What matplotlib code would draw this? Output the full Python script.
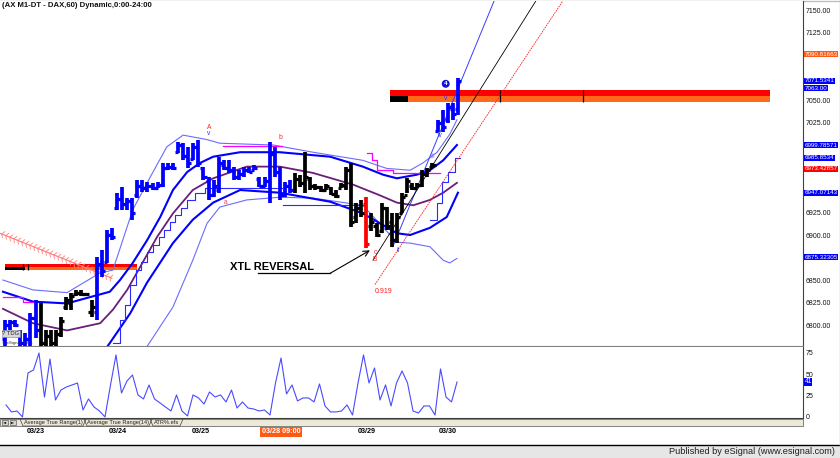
import matplotlib
matplotlib.use('Agg')
import matplotlib.pyplot as plt
import matplotlib.patheffects as pe
from matplotlib.patches import Rectangle
import numpy as np

plt.rcParams['font.family'] = ['Liberation Sans', 'DejaVu Sans']

# ---- hourly DAX bars ----
HIGH = [6806, 6806, 6806, 6794, 6791, 6813, 6828, 6825, 6794, 6794, 6794, 6809, 6831, 6836, 6839,
        6839, 6836, 6828, 6876, 6883, 6906, 6908, 6947, 6953, 6941, 6941, 6961, 6961, 6959, 6958,
        6959, 6980, 6980, 6980, 7003, 7002, 6998, 7002, 7006, 6976, 6964, 6961, 6987, 6983, 6983,
        6976, 6972, 6976, 6976, 6978, 6964, 6964, 7003, 6998, 6976, 6959, 6961, 6969, 6967, 6992,
        6964, 6957, 6955, 6957, 6953, 6950, 6958, 6976, 6980, 6936, 6939, 6942, 6924, 6913, 6936,
        6931, 6924, 6924, 6947, 6963, 6958, 6958, 6972, 6975, 6980, 7028, 7039, 7047, 7047, 7074]
LOW = [6772, 6795, 6798, 6772, 6772, 6772, 6786, 6772, 6772, 6772, 6772, 6787, 6817, 6817, 6832,
       6832, 6832, 6809, 6806, 6853, 6869, 6894, 6928, 6928, 6928, 6917, 6941, 6948, 6948, 6950,
       6952, 6953, 6972, 6972, 6991, 6983, 6974, 6983, 6976, 6961, 6939, 6942, 6947, 6972, 6969,
       6961, 6961, 6964, 6969, 6972, 6953, 6953, 6936, 6964, 6939, 6942, 6947, 6947, 6953, 6947,
       6950, 6950, 6948, 6950, 6944, 6941, 6952, 6950, 6909, 6913, 6920, 6886, 6905, 6898, 6902,
       6906, 6887, 6891, 6924, 6947, 6950, 6952, 6953, 6964, 6975, 7014, 7014, 7024, 7028, 7033]
OPEN = [6785, 6800, 6803, 6792, 6780, 6785, 6808, 6795, 6780, 6788, 6780, 6790, 6820, 6825, 6834,
        6836, 6834, 6815, 6815, 6868, 6870, 6900, 6930, 6940, 6935, 6938, 6945, 6955, 6952, 6955,
        6952, 6956, 6975, 6976, 6992, 7000, 6988, 6985, 6998, 6975, 6960, 6945, 6950, 6978, 6975,
        6972, 6965, 6968, 6972, 6972, 6962, 6955, 6960, 6990, 6970, 6945, 6955, 6950, 6962, 6958,
        6962, 6955, 6953, 6950, 6952, 6946, 6952, 6955, 6972, 6920, 6930, 6935, 6910, 6910, 6905,
        6930, 6915, 6895, 6925, 6945, 6955, 6952, 6956, 6968, 6976, 7016, 7025, 7028, 7040, 7040]
CLOSE = [6800, 6803, 6800, 6780, 6785, 6808, 6795, 6780, 6788, 6780, 6790, 6805, 6828, 6832, 6836,
         6834, 6835, 6820, 6868, 6860, 6900, 6898, 6940, 6935, 6938, 6925, 6955, 6952, 6955, 6952,
         6956, 6975, 6976, 6975, 7000, 6988, 6980, 6998, 6980, 6965, 6945, 6955, 6980, 6975, 6972,
         6965, 6968, 6972, 6970, 6975, 6955, 6960, 6990, 6970, 6945, 6955, 6950, 6962, 6958, 6965,
         6955, 6953, 6950, 6955, 6946, 6943, 6956, 6972, 6915, 6930, 6925, 6890, 6915, 6900, 6930,
         6910, 6895, 6920, 6942, 6960, 6952, 6956, 6968, 6972, 6978, 7025, 7020, 7042, 7035, 7071.5]
BAR_CLR = 'b' * 7 + 'k' * 11 + 'b' * 39 + 'k' * 14 + 'r' + 'k' * 13 + 'b' * 5

# ---- overlays: (bar index, price) knots ----
UB_X = [-0.4, 5.5, 12.2, 16.7, 20.6, 22.6, 25.1, 27.9, 30.5, 33.0, 35.8, 38.3, 40.9, 46.2, 54.0,
        63.9, 70.3, 74.3, 77.0, 80.9, 83.5, 86.1, 88.8]
UB_Y = [6837, 6826, 6824, 6831, 6837, 6850, 6869, 6894, 6920, 6950, 6970, 6980, 6987, 6992, 6992,
        6987, 6976, 6967, 6963, 6967, 6972, 6983, 7000]
LB_X = [19.6, 20.6, 24.6, 27.9, 33.0, 36.9, 40.9, 46.2, 54.0, 63.9, 70.3, 73.7, 77.0, 79.6, 83.5,
        86.8, 89.0]
LB_Y = [6772, 6780, 6813, 6847, 6891, 6917, 6936, 6950, 6947, 6937, 6924, 6913, 6902, 6900, 6908,
        6920, 6947]
MA_X = [-0.4, 5.5, 12.2, 18.7, 21.2, 24.0, 26.5, 29.9, 33.0, 36.9, 40.9, 47.5, 54.0, 60.5, 68.4,
        73.7, 77.0, 80.2, 83.5, 86.1, 88.8]
MA_Y = [6818, 6802, 6794, 6802, 6817, 6839, 6864, 6898, 6924, 6950, 6963, 6976, 6976, 6969, 6956,
        6944, 6936, 6933, 6939, 6947, 6958]
UT_X = [-0.4, 5.5, 12.2, 18.7, 21.2, 25.1, 28.5, 31.8, 35.0, 39.7, 42.2, 52.7, 60.5, 70.3, 75.0,
        79.6, 82.1, 84.9, 87.4, 88.8]
UT_Y = [6850, 6839, 6836, 6858, 6861, 6928, 6964, 6998, 7011, 7006, 7002, 7000, 6992, 6983, 6974,
        6972, 6980, 6992, 7012, 7028]
LT_X = [27.9, 33.0, 36.9, 39.7, 42.2, 47.5, 54.0, 60.5, 70.3, 77.0, 79.6, 83.5, 86.1, 87.4, 88.8]
LT_Y = [6776, 6820, 6872, 6913, 6931, 6939, 6942, 6941, 6933, 6892, 6891, 6887, 6872, 6869, 6874]

STOP1_X = [21.2, 22.6, 23.6, 24.6, 25.7, 26.7, 27.9, 29.1, 30.3, 31.2, 32.4, 33.4, 34.6, 35.8, 37.3,
           39.3, 54.4]
STOP1_Y = [6780, 6806, 6822, 6844, 6861, 6870, 6881, 6889, 6898, 6906, 6914, 6922, 6930, 6939, 6947,
           6952, 6952]
STOP2_X = [54.6, 70.3]
STOP2_Y = [6933, 6933]
STOP3_X = [83.5, 84.9, 85.9, 87.0, 88.4, 89.4]
STOP3_Y = [6917, 6936, 6959, 6970, 6986, 6986]

MAG1_X = [-0.4, 3.5, 5.9]
MAG1_Y = [6831, 6826, 6826]
MAG2_X = [42.8, 54.4]
MAG2_Y = [6999, 6999]
MAG3_X = [71.1, 72.1, 73.1, 76.2, 85.5]
MAG3_Y = [6991, 6983, 6972, 6969, 6969]

HATCH_X = [-1.0, 21.0]
HATCH_Y = [6902, 6852]

TL_BLUE_X = [76.2, 96.1]
TL_BLUE_Y = [6887, 7160]
TL_BLACK_X = [72.3, 104.3]
TL_BLACK_Y = [6872, 7160]
TL_RED_X = [72.7, 109.6]
TL_RED_Y = [6845, 7160]

# resistance zones: (x0, x1, price top, mid, bottom, black end, tick positions)
ZONES = [(0.0, 25.9, 6867.8, 6864.4, 6861.1, 3.9, [3.5, 4.5]),
         (75.6, 150.3, 7061.1, 7054.4, 7047.8, 79.2, [97.2, 113.6])]

# wave labels: (x, y, text, colour)
WAVE_LABELS = [(40.1, 7020, 'A', '#FF2020'), (40.1, 7013, 'v', '#3030FF'),
               (43.4, 6936, 'a', '#FF4040'), (54.2, 7008, 'b', '#FF2020'),
               (72.7, 6881, 'c', '#FF2020'), (72.7, 6873, 'B', '#FF2020'),
               (77.2, 6883, 'ii', '#3030FF'), (84.1, 6987, 'iii', '#8080FF'),
               (85.5, 7011, 'iv', '#3030FF'), (86.6, 7052, 'v', '#3030FF')]

TAG_TEXT = ['7090.81663', '7071.5341', '7063.00', '6999.78571', '6985.8534', '6973.42857',
            '6947.07143', '6875.32305']
TAG_COLOR = ['#FF5A14', '#0000FF', '#0000FF', '#0000FF', '#0000FF', '#FF0000', '#0000FF', '#0000FF']
TAG_SHIFT = [True, False, False, False, False, False, False, False]
HIDDEN_TICKS = [7100, 7075, 7000, 6975, 6950, 6875]

# ---- ATR(1) lower pane ----
ATR = [14.1, 5.9, 7.0, 0.0, 51.6, 55.1, 75.0, 23.4, 68.0, 19.9, 31.6, 35.2, 37.5, 39.8, 8.2, 21.1,
       11.7, 7.0, 0.0, 37.5, 72.7, 28.1, 42.2, 49.2, 25.8, 21.1, 37.5, 21.1, 16.4, 11.7, 7.0, 25.8,
       7.0, 1.2, 25.8, 22.3, 15.2, 29.3, 23.4, 25.8, 17.6, 31.6, 10.5, 17.6, 10.5, 9.4, 7.0, 8.2,
       2.3, 39.8, 69.1, 27.0, 37.5, 18.8, 22.3, 22.3, 17.6, 38.7, 12.9, 5.9, 5.9, 7.0, 14.1, 2.3,
       39.8, 72.7, 39.8, 57.4, 19.9, 37.5, 12.9, 39.8, 53.9, 39.8, 7.0, 4.7, 12.9, 12.9, 2.3, 56.3,
       23.4, 17.6, 41.0]
DATE_POS = [5.5, 20.4, 35.5, 50.0, 65.5, 80.4]
DATE_LBL = ['03/23', '03/24', '03/25', '03/28 09:00', '03/29', '03/30']

CLR = {'b': '#0000FF', 'k': '#000000', 'r': '#FF0000'}
W, H = 840, 458


def rect(x0, y0, x1, y1):
    return [x0 / W, 1 - y1 / H, (x1 - x0) / W, (y1 - y0) / H]


fig = plt.figure(figsize=(8.4, 4.58), dpi=100, facecolor='white')

# window chrome in pixel units
bg = fig.add_axes([0, 0, 1, 1])
bg.set_xlim(0, W)
bg.set_ylim(H, 0)
bg.axis('off')
bg.add_patch(Rectangle((0, 445), W, 13, fc='#E6E6E6', ec='none'))
bg.plot([0, W], [444.5, 444.5], color='black', lw=1)
bg.plot([0, W], [0.5, 0.5], color='#C0C0C0', lw=1)
bg.plot([839.5, 839.5], [0, 445], color='#C0C0C0', lw=1)
bg.add_patch(Rectangle((0, 418.5), 803, 7.5, fc='#ECE9D8', ec='#707070', lw=0.6))
for bx in (2, 10):
    bg.add_patch(Rectangle((bx, 419.5), 6, 5.5, fc='#D8D4C8', ec='#606060', lw=0.5))
bg.text(5, 422.4, '\u25c4', fontsize=3, ha='center', va='center', family='DejaVu Sans')
bg.text(13, 422.4, '\u25ba', fontsize=3, ha='center', va='center', family='DejaVu Sans')
for x0, x1, lbl, fc in [(20, 86, 'Average True Range(1)', 'white'),
                        (84, 152, 'Average True Range(14)', '#ECE9D8'),
                        (150, 183, 'ATR%.efs', '#ECE9D8')]:
    bg.plot([x0, x0 + 3, x1 - 3, x1], [419, 426, 426, 419], color='#404040', lw=0.5)
    bg.text((x0 + x1) / 2, 422.6, lbl, fontsize=4.1, ha='center', va='center', color='#202020')
bg.text(835, 451.5, 'Published by eSignal (www.esignal.com)', ha='right', va='center',
        fontsize=6.6, color='#202020')

# ---- price pane ----
ax = fig.add_axes(rect(0, 1, 803, 346))
ax.set_xlim(-0.98, 156.8)
ax.set_ylim(6776.7, 7160)
ax.set_facecolor('white')
for s in ('top', 'left'):
    ax.spines[s].set_visible(False)
ax.spines['right'].set_color('#404040')
ax.spines['bottom'].set_color('#808080')
ax.spines['bottom'].set_linewidth(0.8)
ax.set_xticks([])
ax.yaxis.tick_right()
yt = np.arange(6800, 7151, 25)
ax.set_yticks(yt)
ax.set_yticklabels(['' if v in HIDDEN_TICKS else f'{v:.2f}' for v in yt])
ax.tick_params(axis='y', length=0, pad=2, labelsize=5.0, labelcolor='#111111')

# zones
for x0, x1, top, mid, bot, kx, ticks in ZONES:
    ax.fill_between([x0, x1], mid, top, color='#FF0000', lw=0, zorder=2)
    ax.fill_between([x0, kx], bot, mid, color='#000000', lw=0, zorder=2)
    ax.fill_between([kx, x1], bot, mid, color='#FF6A1A', lw=0, zorder=2)
    ax.vlines(ticks, bot, top, color='black', lw=0.9, zorder=2)

# hatched falling line
ax.plot(HATCH_X, HATCH_Y, color='#FF8080', lw=0.6, zorder=2,
        path_effects=[pe.withTickedStroke(angle=60, spacing=3, length=0.9),
                      pe.withTickedStroke(angle=-60, spacing=3, length=0.9)])

# bands and averages
ax.plot(UT_X, UT_Y, color='#6B6BFF', lw=0.8, zorder=3)
ax.plot(LT_X, LT_Y, color='#6B6BFF', lw=0.8, zorder=3)
ax.plot(UB_X, UB_Y, color='#0000FF', lw=1.5, zorder=3)
ax.plot(LB_X, LB_Y, color='#0000FF', lw=1.5, zorder=3)
ax.plot(MA_X, MA_Y, color='#6A1E78', lw=1.3, zorder=3)
for sx, sy in [(STOP1_X, STOP1_Y), (STOP2_X, STOP2_Y), (STOP3_X, STOP3_Y)]:
    ax.step(sx, sy, where='post', color='#2A2AFF', lw=0.8, zorder=3)
for mx, my in [(MAG1_X, MAG1_Y), (MAG2_X, MAG2_Y), (MAG3_X, MAG3_Y)]:
    ax.step(mx, my, where='post', color='#FF00FF', lw=0.9, zorder=3)

# channel lines
ax.plot(TL_BLUE_X, TL_BLUE_Y, color='#3A3AFF', lw=0.7, zorder=3)
ax.plot(TL_BLACK_X, TL_BLACK_Y, color='#000000', lw=0.6, zorder=3)
ax.plot(TL_RED_X, TL_RED_Y, color='#FF2020', lw=0.6, zorder=3, ls=(0, (2, 1)))

# OHLC bars
xb = np.arange(len(HIGH))
cols = [CLR[c] for c in BAR_CLR]
ax.vlines(xb, LOW, HIGH, colors=cols, lw=2.7, zorder=4)
ax.hlines(OPEN, xb - 0.6, xb, colors=cols, lw=2.3, zorder=4)
ax.hlines(CLOSE, xb, xb + 0.6, colors=cols, lw=2.3, zorder=4)

# labels on the chart
for x, y, t, c in WAVE_LABELS:
    ax.text(x, y, t, color=c, fontsize=4.8, ha='center', va='center', zorder=5)
ax.text(86.6, 7068, '4', color='white', fontsize=4.6, fontweight='bold', ha='center', va='center',
        zorder=5, bbox=dict(boxstyle='circle,pad=0.12', fc='#1010E0', ec='#1010E0'))
ax.text(72.7, 6837, '0.919', color='#FF2020', fontsize=5, ha='left', va='center', zorder=5)
ax.text(44.2, 6864, 'XTL REVERSAL', color='black', fontsize=8, fontweight='bold',
        ha='left', va='center', zorder=5)
ax.plot([49.7, 63.9], [6857.5, 6857.5], color='black', lw=0.9, zorder=5)
ax.annotate('', xy=(71.7, 6883), xytext=(63.9, 6857.5), zorder=5,
            arrowprops=dict(arrowstyle='->', color='black', lw=0.8, shrinkA=0, shrinkB=0))
ax.text(0.003, 0.997, '(AX M1-DT - DAX,60) Dynamic,0:00-24:00', transform=ax.transAxes,
        fontsize=5.6, fontweight='bold', ha='left', va='top', color='#111111')
ax.text(0.003, 0.028, '? TDG', transform=ax.transAxes, fontsize=4.2, ha='left', va='bottom',
        color='#222222', zorder=6, bbox=dict(boxstyle='square,pad=0.15', fc='#D8D8D8', ec='#808080', lw=0.4))
ax.text(0.003, 0.004, '\u00a9 eSignal, 2011', transform=ax.transAxes, fontsize=3.2, ha='left',
        va='bottom', color='#333333', zorder=6)

# value tags on the price scale
for txt, c, sh in zip(TAG_TEXT, TAG_COLOR, TAG_SHIFT):
    ax.annotate(txt, xy=(1, float(txt)), xycoords=('axes fraction', 'data'),
                xytext=(1.0, 6.5 if sh else 0), textcoords='offset points',
                ha='left', va='center', fontsize=4.5, color='white', annotation_clip=False,
                zorder=7, bbox=dict(boxstyle='square,pad=0.1', fc=c, ec='none'))

# ---- ATR pane ----
ax2 = fig.add_axes(rect(0, 347, 803, 418))
ax2.set_xlim(-1.09, 144.9)
ax2.set_ylim(-1.2, 82)
for s in ('top', 'left'):
    ax2.spines[s].set_visible(False)
ax2.spines['right'].set_color('#404040')
ax2.spines['bottom'].set_color('#404040')
ax2.plot(np.arange(len(ATR)), ATR, color='#4A4AFF', lw=0.8)
ax2.yaxis.tick_right()
ax2.set_yticks([0, 25, 50, 75])
ax2.tick_params(axis='y', length=0, pad=2, labelsize=5.0, labelcolor='#111111')
ax2.annotate(f'{ATR[-1]:.0f}', xy=(1, ATR[-1]), xycoords=('axes fraction', 'data'),
             xytext=(1.0, 0), textcoords='offset points', ha='left', va='center', fontsize=4.8,
             color='white', annotation_clip=False,
             bbox=dict(boxstyle='square,pad=0.1', fc='#0000FF', ec='none'))
ax2.set_xticks(DATE_POS)
ax2.set_xticklabels(DATE_LBL)
ax2.tick_params(axis='x', length=0, pad=7.5, labelsize=5.2)
for lbl in ax2.get_xticklabels():
    lbl.set_fontweight('bold')
    if lbl.get_text() == '03/28 09:00':
        lbl.set_color('white')
        lbl.set_bbox(dict(boxstyle='square,pad=0.2', fc='#FF5A14', ec='none'))

fig.savefig('out.png', dpi=100, facecolor='white')
